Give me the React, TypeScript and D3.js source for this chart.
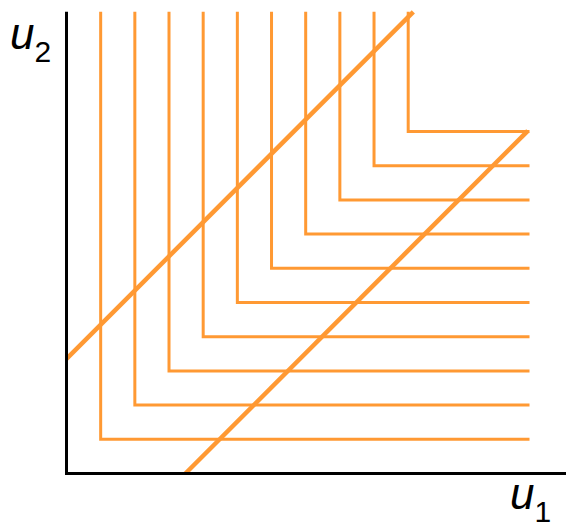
import React from "react";
import * as d3 from "d3";

const levels = [1, 2, 3, 4, 5, 6, 7, 8, 9, 10];
const topU2 = 13.5;
const rightU1 = 13.55;
const axisMaxU1 = 14.7;
const axisMaxU2 = 13.5;
// diagonal lines: [u1, u2] endpoints
const diagonalA = [[0, 3.35], [10.15, 13.5]];
const diagonalB = [[3.48, 0], [13.5, 10.02]];
const xLabel = ["u", "1"];
const yLabel = ["u", "2"];

const W = 566;
const H = 527;
const ORANGE = "#ff9933";

export default function App() {
  const x = d3.scaleLinear().domain([0, 10]).range([66.5, 408.2]);
  const y = d3.scaleLinear().domain([0, 10]).range([473.5, 131.5]);
  const line = d3
    .line<number[]>()
    .x((d) => x(d[0]))
    .y((d) => y(d[1]));

  return (
    <svg
      width={W}
      height={H}
      style={{ position: "absolute", left: 0, top: 0, background: "#fff" }}
    >
      {levels.map((k) => (
        <path
          key={k}
          d={line([
            [k, topU2],
            [k, k],
            [rightU1, k],
          ]) as string}
          fill="none"
          stroke={ORANGE}
          strokeWidth={3}
          strokeLinejoin="miter"
        />
      ))}
      <path d={line(diagonalA) as string} fill="none" stroke={ORANGE} strokeWidth={4.5} />
      <path d={line(diagonalB) as string} fill="none" stroke={ORANGE} strokeWidth={4.5} />
      <path
        d={line([
          [0, axisMaxU2],
          [0, 0],
          [axisMaxU1, 0],
        ]) as string}
        fill="none"
        stroke="#000"
        strokeWidth={3}
        strokeLinejoin="miter"
      />
      <text
        x={10}
        y={49}
        fontFamily="Liberation Sans, Arial, sans-serif"
        fontStyle="italic"
        fontSize={44}
        fill="#000"
      >
        {yLabel[0]}
        <tspan fontStyle="normal" fontSize={30} dy={13}>
          {yLabel[1]}
        </tspan>
      </text>
      <text
        x={510}
        y={509}
        fontFamily="Liberation Sans, Arial, sans-serif"
        fontStyle="italic"
        fontSize={44}
        fill="#000"
      >
        {xLabel[0]}
        <tspan fontStyle="normal" fontSize={30} dy={13}>
          {xLabel[1]}
        </tspan>
      </text>
    </svg>
  );
}
